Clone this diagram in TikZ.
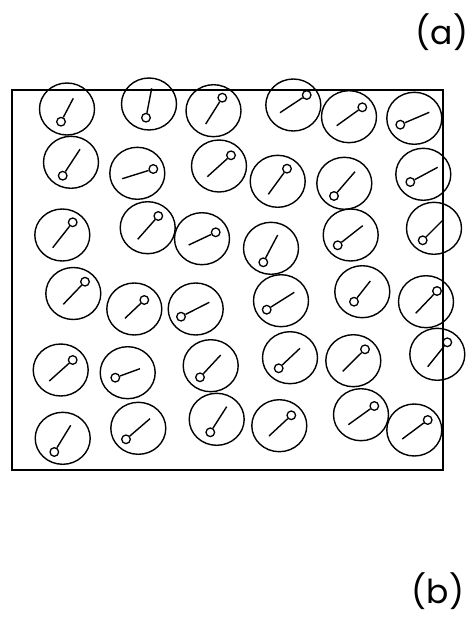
\documentclass[tikz,border=0pt]{standalone}
\usepackage{fontspec}
\setmainfont{Poppins}
\usetikzlibrary{shapes.geometric}
\begin{document}
\begin{tikzpicture}[x=1pt,y=-1pt,
  disc/.style={draw,ellipse,line width=1.4pt,minimum width=55pt,minimum height=52pt,inner sep=0pt},
  head/.style={draw,circle,line width=1.3pt,minimum size=8.6pt,inner sep=0pt},
  rod/.style={line width=1.4pt},
  frame/.style={draw,line width=2pt,rectangle,minimum width=431pt,minimum height=380pt,inner sep=0pt},
  tag/.style={font=\fontsize{33}{37}\selectfont,inner sep=0pt}]
\useasboundingbox (0,0) rectangle (471,618);
\node[frame] (box) at (227.5,280) {};
\foreach \n/\cx/\cy/\sx/\sy/\ex/\ey in {
 1/67/109/61/121.7/73.3/98.3,
 2/149/104/146/117.7/151.7/88.3,
 3/213.5/110.7/222.3/97.7/205.7/124,
 4/293.3/105/306.7/95/280/112.7,
 5/349/116.7/362.3/107.3/336.7/125.7,
 6/414.3/118.3/400.3/124.7/429.3/112.3,
 7/71/162.3/62.7/175.7/80/149.3,
 8/137.3/173.3/153.3/169/122.3/178.7,
 9/219/166/231/155.3/207.3/176.7,
 10/277.7/181.3/287/168.7/268.3/194.3,
 11/344.3/183.3/334/196/355/171.7,
 12/423.3/174.3/410.3/182/437.7/167.3,
 13/62.3/235/72.7/222.3/52.7/247.7,
 14/147.7/227.7/158.3/216/137.7/239.3,
 15/202/238.7/215.7/232.3/188.7/245,
 16/271/248.3/263.3/262.3/277.7/235,
 17/350.7/235/337.7/245.3/362.7/225.7,
 18/434/228.3/422.7/240.3/442.3/220.7,
 19/73.3/293.5/85/281.7/63.3/304.3,
 20/134.3/309/144.3/300/125/318.3,
 21/195.7/309/181/316.7/209.3/302.3,
 22/281/300.7/266.7/309.7/294.3/292.3,
 23/362.3/291.7/354/301.7/370.3/281,
 24/426/301.7/437/291/415.7/313.3,
 25/60.7/370/72.7/360/49.3/381,
 26/127.7/372.7/115.3/377.7/140/368.7,
 27/210.7/365.7/200/377.3/220.7/355,
 28/290/357.7/278.7/368.3/300/348.3,
 29/353.3/360.7/365/349.3/342.7/371.3,
 30/437.3/354.3/447.3/342.3/427.7/366.7,
 31/62.7/438.3/54.3/452/70.7/425.3,
 32/138.3/428.3/126/439.3/150/418.7,
 33/216.7/419.3/210.3/432.3/226.7/406.7,
 34/279.3/425.7/291.3/415.3/269/436,
 35/361/414.7/374.3/406/348.3/424.7,
 36/414.3/430/427.7/420/402.3/439}{
  \node[disc] (c\n) at (\cx,\cy) {};
  \node[head] (s\n) at (\sx,\sy) {};
  \coordinate (e\n) at (\ex,\ey);
  \draw[rod] (s\n) -- (e\n);
}
\node[tag] (la) at (442,32) {(a)};
\node[tag] (lb) at (438,591) {(b)};
\end{tikzpicture}
\end{document}
